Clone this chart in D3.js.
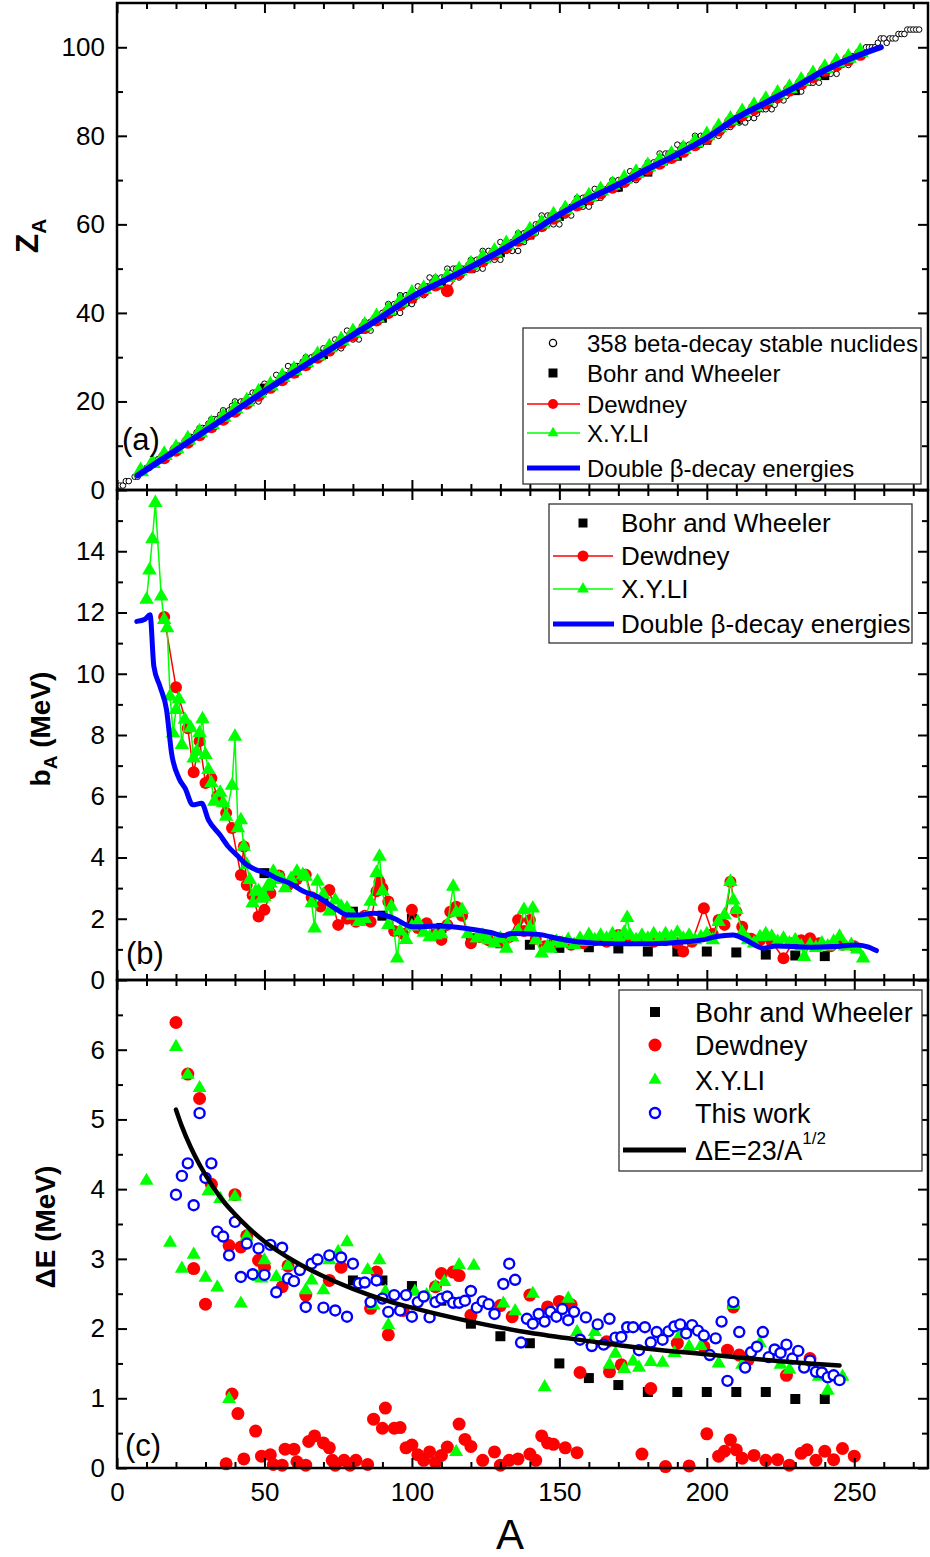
<!DOCTYPE html>
<html>
<head>
<meta charset="utf-8">
<script src="https://cdnjs.cloudflare.com/ajax/libs/d3/7.8.5/d3.min.js"></script>
<style>
  body { margin: 0; background: #fff; }
</style>
</head>
<body>
<script>
// ---------- DATA ----------
// panel (a): beta-stable nuclides, Z list for every A = 1..272 (index = A-1)
var stableZ = [
  [1],[1],[2],[2],[],[3],[3],[],[4],[5],
  [5],[6],[6],[7],[7],[8],[8],[8],[9],[10],
  [10],[10],[11],[12],[12],[12],[13],[14],[14],[14],
  [15],[16],[16],[16],[17],[16,18],[17],[18],[19],[18,20],
  [19],[20],[20],[20],[21],[20,22],[22],[20,22],[22],[22,24],
  [23],[24],[24],[24,26],[25],[26],[26],[26,28],[27],[28],
  [28],[28],[29],[28,30],[29],[30],[30],[30],[31],[30,32],
  [31],[32],[32],[32,34],[33],[32,34],[34],[34,36],[35],[34,36],
  [35],[34,36],[36],[36,38],[37],[36,38],[38],[38],[39],[40],
  [40],[40,42],[41],[40,42],[42],[40,42,44],[42],[42,44],[44],[42,44],
  [44],[44,46],[45],[44,46],[46],[46,48],[47],[46,48],[47],[46,48],
  [48],[48,50],[49],[48,50],[50],[48,50],[50],[50],[50],[50,52],
  [51],[50,52],[51],[50,52,54],[52],[52,54],[53],[52,54],[54],[52,54,56],
  [54],[54,56],[55],[54,56],[56],[54,56,58],[56],[56,58],[57],[58],
  [59],[58,60],[60],[60,62],[60],[60,62],[62],[60,62],[62],[60,62],
  [63],[62,64],[63],[62,64],[64],[64,66],[64],[64,66],[65],[64,66],
  [66],[66,68],[66],[66,68],[67],[68],[68],[68,70],[69],[68,70],
  [70],[70],[70],[70,72],[71],[70,72],[72],[72],[72],[72,74],
  [73],[74],[74],[74,76],[75],[74,76],[76],[76],[76],[76,78],
  [77],[76,78],[77],[78],[78],[78,80],[79],[78,80],[80],[80],
  [80],[80],[81],[80,82],[81],[82],[82],[82],[83],[84],
  [83],[84],[83],[84],[85],[84,86],[85],[86],[86],[86],
  [87],[86,88],[87],[88],[89],[88],[89],[90],[90],[90],
  [91],[90],[92],[92],[92],[92],[93],[92],[94],[94],
  [95],[94],[95],[94],[96],[96],[97],[96],[98],[98],
  [98],[98],[99],[100],[100],[100],[100],[101],[102],[102],
  [101],[102],[102],[102],[103],[103],[103],[104],[104],[104],
  [104],[104]
];

var aBohrA = [50,60,70,80,90,100,110,120,130,140,150,160,170,180,190,200,210,220,230,240];
var aBohrZ = [23.0,26.4,30.6,34.8,38.8,43.2,46.6,50.0,53.6,57.6,61.8,65.4,68.4,71.8,75.4,79.0,83.6,87.0,90.2,93.6];

var aDewA = [16,20,24,28,32,36,40,44,48,52,56,60,64,68,72,76,80,84,88,92,96,100,104,108,112,116,120,124,128,132,136,140,144,148,152,156,160,164,168,172,176,180,184,188,192,196,200,204,208,212,216,220,224,228,232,236,240,244,248,252];
var aDewZ = [7.3,9.0,10.8,12.5,14.3,16.0,17.8,19.6,21.4,23.2,24.9,26.6,28.3,30.0,31.6,33.3,35.0,36.7,38.4,40.1,41.9,43.6,45.0,46.3,45.0,49.0,50.4,51.8,53.3,54.8,56.4,58.0,59.7,61.4,62.9,64.4,65.8,67.1,68.4,69.7,71.1,72.5,73.8,75.1,76.5,78.0,79.5,81.3,83.1,84.7,86.1,87.5,88.9,90.3,91.8,93.3,94.8,96.0,97.2,98.4];

var aXyliA = [8,12,16,20,24,28,32,36,40,44,48,52,56,60,64,68,72,76,80,84,88,92,96,100,104,108,112,116,120,124,128,132,136,140,144,148,152,156,160,164,168,172,176,180,184,188,192,196,200,204,208,212,216,220,224,228,232,236,240,244,248,252];
var aXyliZ = [4.2,6.1,7.9,9.4,11.4,13.0,14.9,16.5,18.4,20.0,22.0,23.6,25.5,27.1,28.9,30.4,32.2,33.8,35.6,37.1,39.0,40.6,42.5,44.3,45.4,46.9,48.1,49.6,50.9,52.4,53.8,55.5,56.9,58.6,60.2,62.0,63.4,65.0,66.3,67.7,68.9,70.3,71.6,73.1,74.3,75.7,77.0,78.6,80.1,81.9,83.6,85.3,86.7,88.1,89.5,90.8,92.4,93.9,95.3,96.6,97.6,98.9];

var aDblA = [7,10,20,30,40,50,60,70,80,90,100,110,120,130,140,150,160,170,180,190,200,210,220,230,240,250,259];
var aDblZ = [3.3,4.6,9.0,13.4,17.8,22.3,26.6,30.8,35.0,39.2,43.6,47.0,50.4,54.0,58.0,62.2,65.8,69.0,72.5,75.8,79.5,84.0,87.5,91.0,94.8,97.8,100.0];

// panel (b): b_A (MeV)
var bBohrA = [50,60,70,80,90,100,110,120,130,140,150,160,170,180,190,200,210,220,230,240];
var bBohrV = [3.49,3.2,2.6,2.23,2.1,2.0,1.7,1.36,1.2,1.15,1.05,1.07,1.03,0.93,0.93,0.93,0.9,0.83,0.8,0.78];

var bDewA = [16,20,24,26,28,30,32,34,37,39,42,43,44,46,48,50,52,55,58,61,64,66,69,72,75,78,81,84,86,88,89,90,92,94,97,100,102,105,108,110,112,113,115,117,120,123,126,130,133,136,138,140,142,145,148,150,154,158,162,166,170,174,178,182,186,190,192,195,199,202,204,206,208,210,212,215,218,222,226,229,232,235,238,242,246,250];
var bDewV = [11.85,9.56,8.22,6.78,7.80,6.43,6.59,6.0,5.45,4.96,3.43,4.36,3.10,2.77,2.07,2.29,2.83,3.41,3.10,3.30,3.44,2.70,2.40,2.94,1.80,2.00,1.90,2.10,1.90,2.90,3.21,3.00,2.56,1.60,1.50,2.29,1.70,1.85,1.50,1.31,1.80,2.23,2.39,2.10,1.20,1.40,1.30,1.25,1.40,1.96,1.60,1.96,1.35,1.10,1.20,1.25,1.15,1.20,1.30,1.25,1.47,1.30,1.35,1.25,1.30,1.20,0.93,1.25,2.34,1.50,1.96,1.80,3.21,2.23,1.74,1.35,1.30,1.25,0.71,1.20,1.30,1.36,1.20,1.10,1.15,1.10];

var bXyliA = [10,11,12,13,15,16,17,18,19,20,21,22,23,25,26,27,28,29,30,31,32,33,35,36,37,39,40,41,42,43,44,45,46,47,48,49,50,51,52,53,55,56,57,59,61,63,64,66,67,68,70,72,74,76,78,80,82,84,86,88,89,90,92,93,95,96,98,100,102,104,106,108,110,112,114,115,117,119,122,124,126,128,130,132,134,136,138,140,141,142,144,146,147,149,151,153,155,157,159,160,162,164,166,168,170,172,173,174,176,178,180,182,184,186,188,190,192,194,196,198,200,202,204,206,208,209,210,212,214,216,218,220,222,224,226,228,230,232,233,235,237,239,241,243,245,247,249,251,253];
var bXyliV = [12.42,13.38,14.40,15.58,12.53,11.76,11.49,9.26,8.06,8.82,9.17,7.68,8.50,8.23,7.24,7.46,8.06,8.52,7.35,6.86,6.43,5.83,6.12,5.78,5.34,6.35,7.95,4.96,5.22,4.36,3.76,3.27,2.51,2.89,2.90,2.66,2.72,3.05,3.16,3.54,3.32,3.27,3.00,3.30,3.54,3.43,3.38,2.51,1.69,3.22,2.79,2.24,2.60,2.40,2.34,2.10,1.90,2.00,2.56,3.50,4.03,2.90,1.80,2.40,0.71,1.60,1.31,1.75,1.90,1.55,1.40,1.46,1.50,1.80,3.05,2.20,2.29,1.50,1.36,1.45,1.30,1.20,1.35,1.03,1.40,1.60,2.29,1.70,2.34,1.30,0.87,1.10,1.03,1.25,1.20,1.31,1.15,1.35,1.25,1.47,1.30,1.45,1.35,1.50,1.40,1.55,2.03,1.45,1.30,1.45,1.35,1.50,1.35,1.50,1.40,1.55,1.35,1.45,1.30,1.40,1.50,1.30,1.90,2.12,3.21,2.60,2.29,1.55,1.30,1.20,1.40,1.50,1.42,1.25,1.35,1.20,1.30,1.10,0.76,1.15,1.05,1.20,1.10,1.25,1.42,1.10,1.15,1.00,0.71];

var bDblA = [6.7,9.5,11.2,12.5,14.6,16.8,18.5,21,23.1,25.7,28.7,31,34.9,37.7,40.6,44,47.9,50.8,54.1,58.6,63.2,68,73.9,78.3,82,87.1,93.7,100.3,109.1,117.9,126.7,131.1,134,142.8,150.2,156,169.2,179.5,189.8,198.6,203,208.9,213.2,219.1,223.5,235.2,242.6,250.6,254.3,257.5];
var bDblV = [11.71,11.78,11.93,10.24,9.58,8.82,7.41,6.59,6.26,5.72,5.77,5.23,4.74,4.36,4.08,3.76,3.57,3.49,3.32,3.16,2.90,2.72,2.34,2.12,2.12,2.18,2.02,1.74,1.76,1.69,1.55,1.45,1.52,1.49,1.34,1.25,1.18,1.18,1.23,1.31,1.41,1.47,1.31,1.04,1.11,1.07,1.09,1.14,1.09,0.96];

// panel (c): Delta E (MeV)
var cBohrA = [80,90,100,110,120,130,140,150,160,170,180,190,200,210,220,230,240];
var cBohrV = [2.69,2.69,2.61,2.40,2.07,1.89,1.79,1.50,1.29,1.19,1.09,1.09,1.09,1.09,1.09,0.99,0.99];

var cDewA = [20,24,28,26,30,32,40,38,42,44,48,50,56,58,64,72,76,86,88,92,97,108,110,114,116,120,130,134,140,146,150,154,157,166,167,171,181,190,199,207,209,211,214,227,235,
  37,39,41,43,47,49,52,53,56,57,60,61,64,65,67,70,72,73,74,77,79,81,85,87,90,91,94,96,98,100,102,104,106,108,110,112,116,118,120,124,128,130,133,136,140,142,144,146,148,152,156,178,186,194,200,204,206,208,210,212,216,220,224,228,232,234,237,240,243,246,250];
var cDewV = [6.39,5.65,5.30,2.86,2.35,4.07,3.92,3.19,3.17,3.33,2.98,2.88,2.60,2.90,2.48,2.69,2.88,2.29,2.81,1.91,2.26,2.60,2.79,2.81,2.76,2.19,2.33,2.17,2.48,2.31,2.39,2.34,1.37,1.81,1.38,1.48,1.14,1.79,1.74,1.69,2.31,1.62,1.55,1.33,1.57,
  0.06,1.06,0.78,0.13,0.53,0.17,0.19,0.05,0.04,0.27,0.27,0.09,0.04,0.38,0.46,0.36,0.29,0.11,0.04,0.11,0.04,0.11,0.05,0.70,0.57,0.86,0.57,0.58,0.29,0.33,0.19,0.11,0.23,0.08,0.18,0.30,0.63,0.41,0.31,0.11,0.23,0.04,0.11,0.13,0.20,0.11,0.46,0.36,0.34,0.29,0.22,0.20,0.02,0.03,0.49,0.17,0.24,0.40,0.26,0.14,0.18,0.11,0.12,0.04,0.21,0.26,0.11,0.24,0.12,0.28,0.17];

var cXyliA = [10,18,20,22,24,26,28,30,31,34,35,38,40,42,44,48,49,50,54,58,64,66,70,72,75,78,85,87,89,91,92,101,105,108,111,115,116,121,131,135,141,145,153,156,161,162,167,169,172,175,177,181,185,189,191,194,198,204,209,212,218,225,228,238,241,246];
var cXyliV = [4.12,3.23,6.04,2.86,5.64,3.06,5.45,2.73,3.97,2.59,3.86,0.99,3.89,2.36,3.32,2.74,2.72,2.98,2.74,2.90,2.55,2.69,2.55,2.98,3.10,3.24,2.84,2.33,2.98,2.53,2.05,2.53,2.48,2.60,2.67,0.23,2.91,2.90,2.36,2.25,2.50,1.16,2.43,1.95,1.81,1.95,1.48,1.64,1.42,1.53,1.44,1.52,1.51,1.65,1.92,1.74,1.75,1.50,2.34,1.48,1.79,1.48,1.41,1.31,1.11,1.31];

var cWorkA = [20,22,24,26,28,30,32,34,36,38,40,42,44,46,48,50,52,54,56,58,60,62,64,66,68,70,72,74,76,78,80,82,84,86,88,90,92,94,96,98,100,102,104,106,108,110,112,114,116,118,120,122,124,126,128,131,133,135,137,139,141,143,145,147,149,151,153,155,157,159,161,163,165,167,169,171,173,175,177,179,181,183,185,187,189,191,193,195,197,199,201,203,205,207,209,211,213,215,217,219,221,223,225,227,229,231,233,235,237,239,241,243,245];
var cWorkV = [3.92,4.19,4.37,3.77,5.09,4.16,4.37,3.39,3.32,3.05,3.53,2.74,3.22,2.78,3.15,2.77,3.20,2.52,3.16,2.72,2.68,2.84,2.31,2.93,2.99,2.30,3.05,2.26,3.02,2.17,2.93,2.65,2.66,2.38,2.69,2.43,2.24,2.48,2.26,2.48,2.17,2.38,2.46,2.16,2.38,2.43,2.46,2.37,2.37,2.40,2.54,2.30,2.39,2.35,2.21,2.64,2.93,2.70,1.80,2.14,2.07,2.21,2.10,2.24,2.17,2.28,2.12,2.24,1.84,2.16,1.75,2.06,1.77,2.14,1.87,1.88,2.02,2.02,1.69,2.02,1.80,1.95,1.84,1.96,2.03,2.06,1.93,2.05,1.97,1.90,1.62,1.86,2.10,1.25,2.38,1.95,1.44,1.66,1.74,1.95,1.59,1.70,1.65,1.77,1.57,1.68,1.44,1.54,1.38,1.37,1.30,1.33,1.26];

// curve dE = 23/A^(1/2)
var cFitA = [20,22,25,28,32,36,40,45,50,60,70,80,90,100,120,140,160,180,200,220,245];
var cFitV = [5.14,4.90,4.60,4.35,4.07,3.83,3.64,3.43,3.25,2.97,2.75,2.57,2.42,2.30,2.10,1.94,1.82,1.71,1.63,1.55,1.47];

var legendA = ['358 beta-decay stable nuclides', 'Bohr and Wheeler', 'Dewdney', 'X.Y.LI', 'Double \u03b2-decay energies'];
var legendB = ['Bohr and Wheeler', 'Dewdney', 'X.Y.LI', 'Double \u03b2-decay energies'];
var legendC = ['Bohr and Wheeler', 'Dewdney', 'X.Y.LI', 'This work', '\u0394E=23/A'];

var xMajorTicks = [0, 50, 100, 150, 200, 250];
var xMinorTicks = [10,20,30,40,60,70,80,90,110,120,130,140,160,170,180,190,210,220,230,240,260,270];

// ---------- SETUP ----------
var FONT = '"Liberation Sans", Arial, sans-serif';
var RED = '#ff0000', GREEN = '#00ff00', BLUE = '#0000ff';
var plotLeft = 117, plotRight = 928;

var svg = d3.select('body').append('svg')
            .attr('width', 930)
            .attr('height', 1557)
            .style('font-family', FONT);

var x = d3.scaleLinear().domain([0, 275]).range([plotLeft, plotRight]);
var yA = d3.scaleLinear().domain([0, 110]).range([490, 3]);
var yB = d3.scaleLinear().domain([0, 16]).range([980, 490]);
var yC = d3.scaleLinear().domain([0, 7]).range([1468, 980]);

function zip(a, b){
  return a.map(function(d, i){ return [d, b[i]]; });
}

function triangle(w){ return d3.symbol().type(d3.symbolTriangle).size(Math.sqrt(3) / 4 * w * w)(); }
function square(w){ return d3.symbol().type(d3.symbolSquare).size(w * w)(); }

function circles(g, data, y, r, fill, stroke, sw){
  g.append('g').selectAll('circle')
   .data(data).enter().append('circle')
   .attr('cx', function(d){ return x(d[0]); })
   .attr('cy', function(d){ return y(d[1]); })
   .attr('r', r)
   .attr('fill', fill)
   .attr('stroke', stroke || 'none')
   .attr('stroke-width', sw || 0);
}

function symbols(g, data, y, path, fill){
  g.append('g').selectAll('path')
   .data(data).enter().append('path')
   .attr('d', path)
   .attr('transform', function(d){ return 'translate(' + x(d[0]) + ',' + y(d[1]) + ')'; })
   .attr('fill', fill);
}

function line(g, data, y, color, width, curve){
  var gen = d3.line()
              .x(function(d){ return x(d[0]); })
              .y(function(d){ return y(d[1]); });
  if (curve) gen.curve(curve);
  g.append('path')
   .datum(data)
   .attr('d', gen)
   .attr('fill', 'none')
   .attr('stroke', color)
   .attr('stroke-width', width)
   .attr('stroke-linejoin', 'round')
   .attr('stroke-linecap', 'round');
}

function axes(y, yMajor, yMinor, showX){
  var g = svg.append('g');
  var bottom = y.range()[0], top = y.range()[1];
  var none = function(){ return ''; };

  g.append('g').attr('transform', 'translate(0,' + bottom + ')')
   .call(d3.axisBottom(x).tickValues(xMajorTicks).tickSize(-10).tickPadding(15)
         .tickFormat(showX ? d3.format('d') : none));
  g.append('g').attr('transform', 'translate(0,' + bottom + ')')
   .call(d3.axisBottom(x).tickValues(xMinorTicks).tickSize(-6).tickFormat(none));
  g.append('g').attr('transform', 'translate(0,' + top + ')')
   .call(d3.axisTop(x).tickValues(xMajorTicks).tickSize(-10).tickFormat(none));
  g.append('g').attr('transform', 'translate(0,' + top + ')')
   .call(d3.axisTop(x).tickValues(xMinorTicks).tickSize(-6).tickFormat(none));

  g.append('g').attr('transform', 'translate(' + plotLeft + ',0)')
   .call(d3.axisLeft(y).tickValues(yMajor).tickSize(-10).tickPadding(12).tickFormat(d3.format('d')));
  g.append('g').attr('transform', 'translate(' + plotLeft + ',0)')
   .call(d3.axisLeft(y).tickValues(yMinor).tickSize(-6).tickFormat(none));
  g.append('g').attr('transform', 'translate(' + plotRight + ',0)')
   .call(d3.axisRight(y).tickValues(yMajor).tickSize(-10).tickFormat(none));
  g.append('g').attr('transform', 'translate(' + plotRight + ',0)')
   .call(d3.axisRight(y).tickValues(yMinor).tickSize(-6).tickFormat(none));

  g.selectAll('.domain').remove();
  g.selectAll('.tick line').attr('stroke', '#000').attr('stroke-width', 2);
  g.selectAll('.tick text')
   .attr('font-size', 26)
   .attr('font-family', FONT)
   .attr('fill', '#000');

  g.append('rect')
   .attr('x', plotLeft).attr('y', top)
   .attr('width', plotRight - plotLeft).attr('height', bottom - top)
   .attr('fill', 'none').attr('stroke', '#000').attr('stroke-width', 2.5);
}

// ---------- PANEL (a) ----------
var stablePts = [];
stableZ.forEach(function(zs, i){
  zs.forEach(function(z){ stablePts.push([i + 1, z]); });
});

var ga = svg.append('g');
circles(ga, stablePts, yA, 2.8, '#fff', '#000', 1);
symbols(ga, zip(aBohrA, aBohrZ), yA, square(9), '#000');
line(ga, zip(aDewA, aDewZ), yA, RED, 1.5);
circles(ga, zip(aDewA, aDewZ), yA, 6.5, RED);
line(ga, zip(aXyliA, aXyliZ), yA, GREEN, 2);
symbols(ga, zip(aXyliA, aXyliZ), yA, triangle(17), GREEN);
line(ga, zip(aDblA, aDblZ), yA, BLUE, 6, d3.curveMonotoneX);

// ---------- PANEL (b) ----------
var gb = svg.append('g');
symbols(gb, zip(bBohrA, bBohrV), yB, square(10), '#000');
line(gb, zip(bDewA, bDewV), yB, RED, 1.5);
circles(gb, zip(bDewA, bDewV), yB, 6, RED);
line(gb, zip(bXyliA, bXyliV), yB, GREEN, 1.5);
symbols(gb, zip(bXyliA, bXyliV), yB, triangle(14.5), GREEN);
line(gb, zip(bDblA, bDblV), yB, BLUE, 5, d3.curveMonotoneX);

// ---------- PANEL (c) ----------
var gc = svg.append('g');
symbols(gc, zip(cBohrA, cBohrV), yC, square(10), '#000');
circles(gc, zip(cDewA, cDewV), yC, 6.5, RED);
symbols(gc, zip(cXyliA, cXyliV), yC, triangle(14), GREEN);
circles(gc, zip(cWorkA, cWorkV), yC, 5, '#fff', BLUE, 2.4);
line(gc, zip(cFitA, cFitV), yC, '#000', 4.5, d3.curveMonotoneX);

// ---------- AXES ----------
axes(yA, [0,20,40,60,80,100], [10,30,50,70,90], false);
axes(yB, [0,2,4,6,8,10,12,14], [1,3,5,7,9,11,13,15], false);
axes(yC, [0,1,2,3,4,5,6], [0.5,1.5,2.5,3.5,4.5,5.5,6.5], true);

// axis titles
var tA = svg.append('text').attr('transform', 'translate(38,236) rotate(-90)')
            .attr('text-anchor', 'middle').attr('font-weight', 'bold').attr('font-size', 32);
tA.append('tspan').text('Z');
tA.append('tspan').attr('font-size', 21).attr('dy', 8).text('A');

var tB = svg.append('text').attr('transform', 'translate(50,729) rotate(-90)')
            .attr('text-anchor', 'middle').attr('font-weight', 'bold').attr('font-size', 28);
tB.append('tspan').text('b');
tB.append('tspan').attr('font-size', 19).attr('dy', 7).text('A');
tB.append('tspan').attr('dy', -7).text(' (MeV)');

svg.append('text').attr('transform', 'translate(55,1227) rotate(-90)')
   .attr('text-anchor', 'middle').attr('font-weight', 'bold').attr('font-size', 28)
   .text('\u0394E (MeV)');

svg.append('text').attr('x', 510).attr('y', 1549)
   .attr('text-anchor', 'middle').attr('font-size', 42).text('A');

// panel tags
svg.append('text').attr('x', 122).attr('y', 450).attr('font-size', 31).text('(a)');
svg.append('text').attr('x', 126).attr('y', 964).attr('font-size', 31).text('(b)');
svg.append('text').attr('x', 125).attr('y', 1456).attr('font-size', 31).text('(c)');

// ---------- LEGENDS ----------
function legendBox(x0, y0, x1, y1){
  svg.append('rect').attr('x', x0).attr('y', y0)
     .attr('width', x1 - x0).attr('height', y1 - y0)
     .attr('fill', '#fff').attr('stroke', '#333').attr('stroke-width', 1.3);
}
function legendText(tx, ty, size, label){
  return svg.append('text').attr('x', tx).attr('y', ty).attr('dy', '0.36em')
            .attr('font-size', size).text(label);
}
function legendLine(x0, x1, ty, color, w){
  svg.append('line').attr('x1', x0).attr('x2', x1).attr('y1', ty).attr('y2', ty)
     .attr('stroke', color).attr('stroke-width', w);
}
function legendPath(cx, cy, path, fill){
  svg.append('path').attr('d', path).attr('transform', 'translate(' + cx + ',' + cy + ')').attr('fill', fill);
}
function legendCircle(cx, cy, r, fill, stroke, sw){
  svg.append('circle').attr('cx', cx).attr('cy', cy).attr('r', r)
     .attr('fill', fill).attr('stroke', stroke || 'none').attr('stroke-width', sw || 0);
}

// (a)
var rowsA = [343, 373, 404, 433, 468];
legendBox(523, 328, 921, 484);
legendCircle(553, rowsA[0], 3.6, '#fff', '#000', 1.3);
legendPath(553, rowsA[1], square(9), '#000');
legendLine(527, 580, rowsA[2], RED, 1.3);
legendCircle(553, rowsA[2], 5, RED);
legendLine(527, 580, rowsA[3], GREEN, 1.3);
legendPath(553, rowsA[3], triangle(11), GREEN);
legendLine(527, 580, rowsA[4], BLUE, 5);
legendA.forEach(function(t, i){ legendText(587, rowsA[i], 24, t); });

// (b)
var rowsB = [523, 556, 589, 624];
legendBox(549, 504, 912, 643);
legendPath(583, rowsB[0], square(9), '#000');
legendLine(553, 613, rowsB[1], RED, 1.3);
legendCircle(583, rowsB[1], 5.5, RED);
legendLine(553, 613, rowsB[2], GREEN, 1.3);
legendPath(583, rowsB[2], triangle(12), GREEN);
legendLine(553, 614, rowsB[3], BLUE, 5);
legendB.forEach(function(t, i){ legendText(621, rowsB[i], 26, t); });

// (c)
var rowsC = [1012, 1045, 1080, 1113, 1150];
legendBox(619, 990, 922, 1171);
legendPath(655, rowsC[0], square(10), '#000');
legendCircle(655, rowsC[1], 6.5, RED);
legendPath(655, rowsC[2], triangle(13), GREEN);
legendCircle(655, rowsC[3], 5, '#fff', BLUE, 2.4);
legendLine(623, 686, rowsC[4], '#000', 5);
legendC.forEach(function(t, i){
  var txt = legendText(695, rowsC[i], 27, t);
  if (i == 4) txt.append('tspan').attr('font-size', 17).attr('dy', '-0.9em').text('1/2');
});
</script>
</body>
</html>
